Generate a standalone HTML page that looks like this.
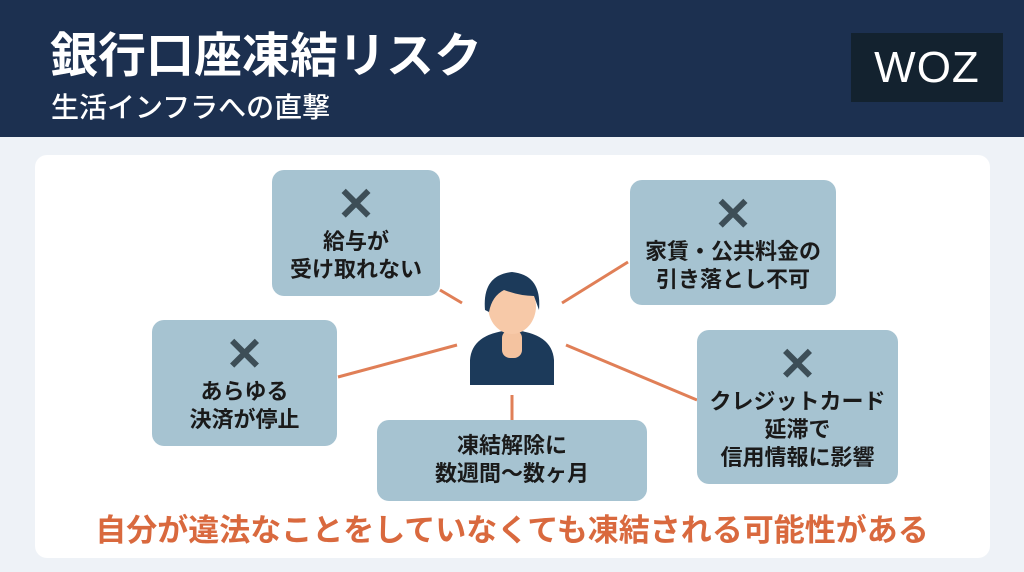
<!DOCTYPE html>
<html><head><meta charset="utf-8"><style>
*{margin:0;padding:0;box-sizing:border-box}
body{width:1024px;height:572px;background:#eef2f7;position:relative;overflow:hidden;font-family:"Liberation Sans","Noto Sans CJK JP",sans-serif}
.hdr{position:absolute;left:0;top:0;width:1024px;height:137px;background:#1c3050}
.t1{position:absolute;left:50px;top:28px;color:#fff;font-size:48px;font-weight:700;line-height:58px}
.t2{position:absolute;left:51px;top:90px;color:#fff;font-size:28px;font-weight:500;line-height:36px}
.woz{position:absolute;left:851px;top:33px;width:152px;height:69px;background:#13222f;color:#fff;font-size:44px;text-align:center;line-height:69px;letter-spacing:1px}
.card{position:absolute;left:35px;top:155px;width:955px;height:403px;background:#fff;border-radius:12px}
.b{position:absolute;background:#a6c3d1;border-radius:12px;text-align:center;color:#1a1a1a;font-weight:700;font-size:22px;line-height:28px;white-space:nowrap}
.x{color:#3d4e57;font-size:46px;line-height:40px;font-weight:900;display:block;margin-bottom:4px}
.foot{position:absolute;left:0;width:1024px;top:510px;text-align:center;color:#d9693e;font-size:31px;font-weight:700;line-height:42px}
</style></head><body>
<div class="hdr"></div>
<div class="t1">銀行口座凍結リスク</div>
<div class="t2">生活インフラへの直撃</div>
<div class="woz">WOZ</div>
<div class="card"></div>
<svg style="position:absolute;left:0;top:0" width="1024" height="572">
<g stroke="#e07f57" stroke-width="3">
<line x1="440" y1="290" x2="462" y2="303"/>
<line x1="562" y1="303" x2="628" y2="262"/>
<line x1="566" y1="345" x2="697" y2="400"/>
<line x1="338" y1="377" x2="457" y2="345"/>
<line x1="512" y1="395" x2="512" y2="420"/>
</g>
<path d="M470 385 L470 360 Q472 333 512 330 Q552 333 554 360 L554 385Z" fill="#1c3a5a"/>
<rect x="502" y="330" width="20" height="28" rx="8" fill="#f4c3a0"/>
<ellipse cx="512" cy="306" rx="24" ry="28" fill="#f7c9a8"/>
<path d="M485 310 Q482 275 512 272 Q542 275 539 310 L534 296 Q520 296 504 290 Q492 296 489 312Z" fill="#1c3a5a"/>
</svg>
<div class="b" style="left:272px;top:170px;width:168px;height:126px;padding-top:14px"><span class="x">✕</span>給与が<br>受け取れない</div>
<div class="b" style="left:630px;top:180px;width:206px;height:125px;padding-top:14px"><span class="x">✕</span>家賃・公共料金の<br>引き落とし不可</div>
<div class="b" style="left:152px;top:320px;width:185px;height:126px;padding-top:14px"><span class="x">✕</span>あらゆる<br>決済が停止</div>
<div class="b" style="left:377px;top:420px;width:270px;height:81px;padding-top:12px">凍結解除に<br>数週間〜数ヶ月</div>
<div class="b" style="left:697px;top:330px;width:201px;height:154px;padding-top:14px"><span class="x">✕</span>クレジットカード<br>延滞で<br>信用情報に影響</div>
<div class="foot">自分が違法なことをしていなくても凍結される可能性がある</div>
</body></html>
